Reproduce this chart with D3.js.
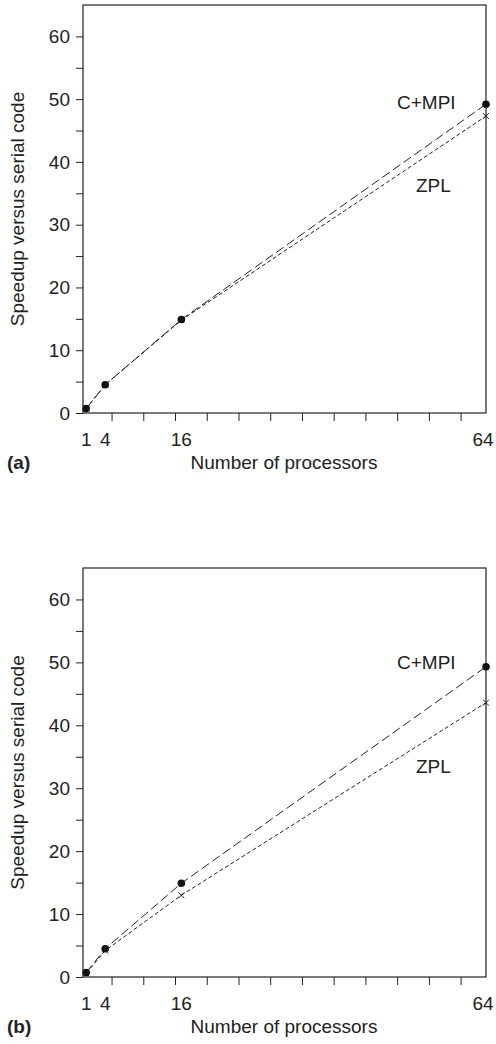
<!DOCTYPE html>
<html>
<head>
<meta charset="utf-8">
<script src="https://cdn.jsdelivr.net/npm/d3@7"></script>
<style>
  body { margin: 0; background: #fff; }
  text { font-family: "Liberation Sans", Arial, sans-serif; fill: #222; }
</style>
</head>
<body>
<div id="chart-area"></div>
<script>
// processors on the x axis
let procs = [1, 4, 16, 64];
let xTickLabels = [1, 4, 16, 64];
let yTickLabels = [0, 10, 20, 30, 40, 50, 60];

// panel (a)
let mpiA = [0.7, 4.5, 14.9, 49.2];
let zplA = [0.7, 4.5, 14.8, 47.3];
// panel (b)
let mpiB = [0.7, 4.5, 14.9, 49.3];
let zplB = [0.6, 4.2, 13.0, 43.6];

let width = 496, height = 1044;

let svg = d3.select("#chart-area").append("svg")
	.attr("width", width)
	.attr("height", height);

function drawPanel(top, bottom, mpi, zpl, tag, labMpiY, labZplY) {
	let x = d3.scaleLinear().domain([0.5, 64]).range([83, 486]);
	let y = d3.scaleLinear().domain([0, 65]).range([bottom, top]);

	let g = svg.append("g");

	// frame
	g.append("rect")
		.attr("x", 83).attr("y", top)
		.attr("width", 486 - 83).attr("height", bottom - top)
		.attr("fill", "none").attr("stroke", "#222").attr("stroke-width", 1.2);

	// y axis
	let axisLeft = d3.axisLeft(y)
		.tickValues(d3.range(0, 65, 5))
		.tickSize(7)
		.tickPadding(6)
		.tickFormat((d) => { return yTickLabels.indexOf(d) >= 0 ? d : ""; });
	let ya = g.append("g").attr("transform", "translate(83,0)").call(axisLeft);
	ya.select(".domain").remove();
	ya.selectAll("line").attr("stroke", "#222");
	ya.selectAll("text").attr("font-size", "19px").style("font-family", "Liberation Sans, Arial, sans-serif").attr("fill", "#222");

	// x axis minor ticks
	let axisBottom = d3.axisBottom(x)
		.tickValues(d3.range(5, 64, 5))
		.tickSize(8)
		.tickFormat("");
	let xa = g.append("g").attr("transform", "translate(0," + bottom + ")").call(axisBottom);
	xa.select(".domain").remove();
	xa.selectAll("line").attr("stroke", "#222");

	// x labels
	g.selectAll(".xlab").data(xTickLabels).enter()
		.append("text")
		.attr("x", (d) => { return d === 64 ? x(d) - 3 : x(d); })
		.attr("y", bottom + 33)
		.attr("text-anchor", "middle")
		.attr("font-size", "19px")
		.text((d) => { return d; });

	g.append("text")
		.attr("x", 284)
		.attr("y", bottom + 56)
		.attr("text-anchor", "middle")
		.attr("font-size", "19px")
		.text("Number of processors");

	g.append("text")
		.attr("x", 7)
		.attr("y", bottom + 56)
		.attr("font-size", "19px")
		.attr("font-weight", "bold")
		.text(tag);

	g.append("text")
		.attr("transform", "translate(24," + (top + (bottom - top) / 2) + ") rotate(-90)")
		.attr("text-anchor", "middle")
		.attr("font-size", "19px")
		.text("Speedup versus serial code");

	let line = d3.line()
		.x((d, i) => { return x(procs[i]); })
		.y((d) => { return y(d); });

	g.append("path").datum(zpl)
		.attr("d", line)
		.attr("fill", "none").attr("stroke", "#222").attr("stroke-width", 1)
		.attr("stroke-dasharray", "4,2.5");

	g.append("path").datum(mpi)
		.attr("d", line)
		.attr("fill", "none").attr("stroke", "#222").attr("stroke-width", 1)
		.attr("stroke-dasharray", "9,4");

	// ZPL crosses
	g.selectAll(".cross").data(zpl).enter()
		.append("path")
		.attr("transform", (d, i) => { return "translate(" + x(procs[i]) + "," + y(d) + ")"; })
		.attr("d", "M-3,-3L3,3M-3,3L3,-3")
		.attr("stroke", "#222").attr("stroke-width", 1);

	// C+MPI dots
	g.selectAll(".dot").data(mpi).enter()
		.append("circle")
		.attr("cx", (d, i) => { return x(procs[i]); })
		.attr("cy", (d) => { return y(d); })
		.attr("r", 3.8)
		.attr("fill", "#111");

	g.append("text")
		.attr("x", 397).attr("y", labMpiY)
		.attr("font-size", "19px")
		.text("C+MPI");
	g.append("text")
		.attr("x", 416).attr("y", labZplY)
		.attr("font-size", "19px")
		.text("ZPL");
}

drawPanel(5, 413, mpiA, zplA, "(a)", 109, 192);
drawPanel(568, 977, mpiB, zplB, "(b)", 669, 773);
</script>
</body>
</html>
